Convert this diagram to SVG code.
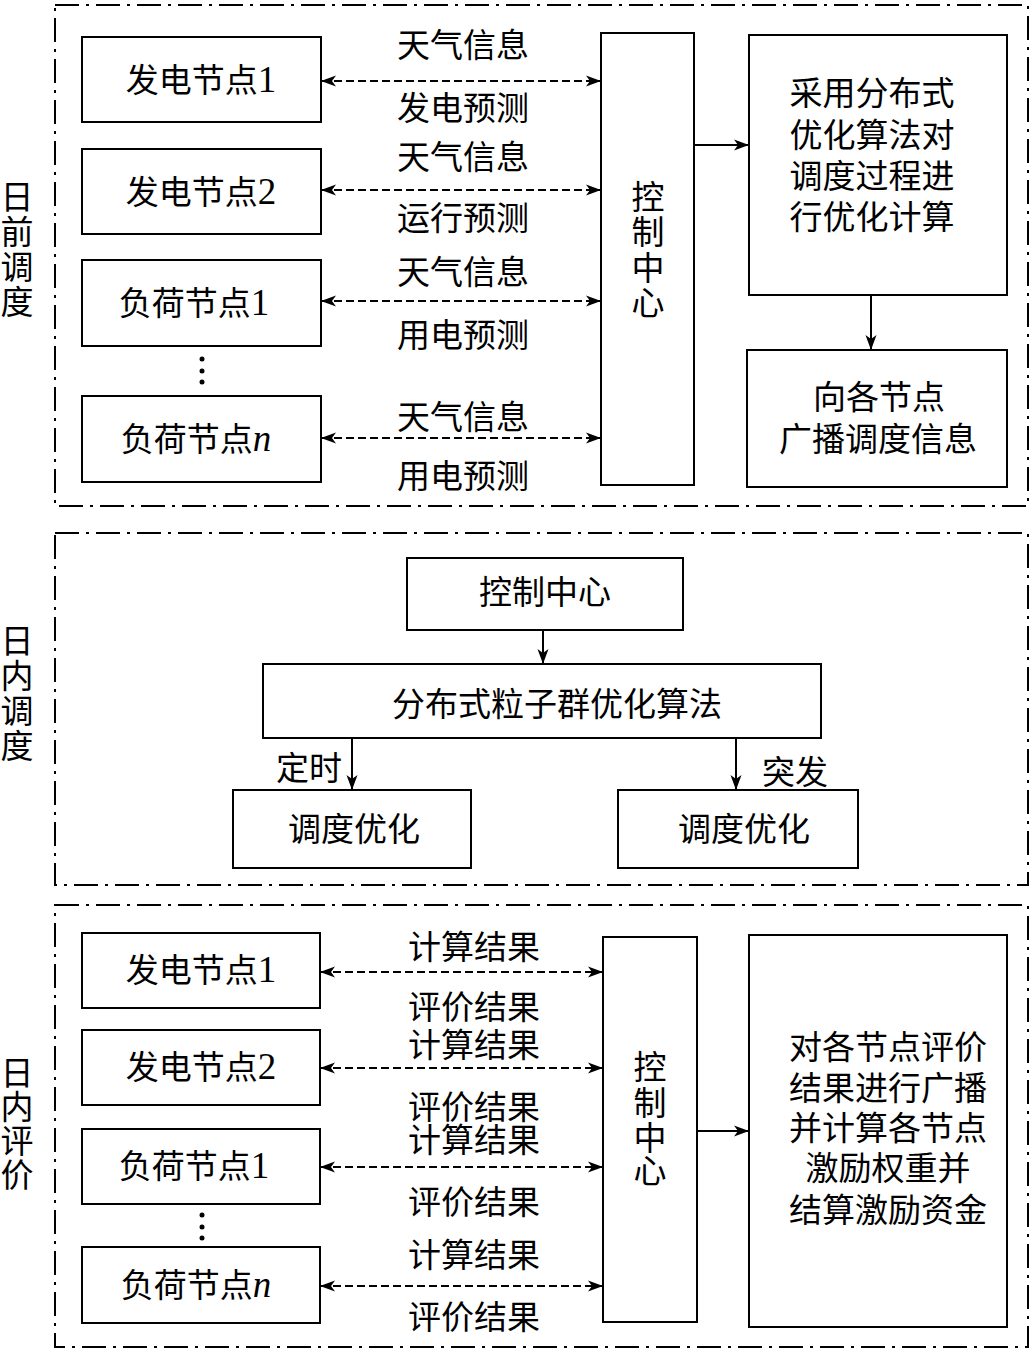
<svg xmlns="http://www.w3.org/2000/svg" width="1032" height="1351" viewBox="0 0 1032 1351">
<style>
text{font-family:"Liberation Serif","Noto Sans CJK SC",serif;font-size:33px;fill:#000;text-anchor:middle}
.num{font-size:37px}
.box{fill:#fff;stroke:#000;stroke-width:2}
.frame{fill:none;stroke:#000;stroke-width:2;stroke-dasharray:24 7 3 7}
.dash{fill:none;stroke:#000;stroke-width:2;stroke-dasharray:8 4;marker-start:url(#ah);marker-end:url(#ah)}
.solid{fill:none;stroke:#000;stroke-width:2;marker-end:url(#ah)}
</style>
<defs>
<marker id="ah" markerUnits="userSpaceOnUse" markerWidth="15" markerHeight="12" refX="14" refY="6" orient="auto-start-reverse" viewBox="0 0 15 12">
<path d="M0,0.5 L15,6 L0,11.5 L4,6 z" fill="#000" stroke="none"/>
</marker>
</defs>
<rect fill="#fff" x="0" y="0" width="1032" height="1351"/>

<g id="section-dayahead">
<rect class="frame" x="55" y="5" width="973" height="501"/>
<text x="17" y="209">日</text><text x="17" y="244">前</text><text x="17" y="279">调</text><text x="17" y="314">度</text>
</g>
<g id="da-gen1"><rect class="box" x="82" y="37" width="239" height="85"/><text x="201" y="92">发电节点<tspan class="num">1</tspan></text></g>
<g id="da-gen2"><rect class="box" x="82" y="149" width="239" height="85"/><text x="201" y="204">发电节点<tspan class="num">2</tspan></text></g>
<g id="da-load1"><rect class="box" x="82" y="260" width="239" height="86"/><text x="194" y="315">负荷节点<tspan class="num">1</tspan></text></g>
<g id="da-dots"><circle cx="202" cy="359" r="2.5"/><circle cx="202" cy="371" r="2.5"/><circle cx="202" cy="382" r="2.5"/></g>
<g id="da-loadn"><rect class="box" x="82" y="396" width="239" height="86"/><text x="196" y="451">负荷节点<tspan class="num" font-style="italic">n</tspan></text></g>
<g id="da-cc"><rect class="box" x="601" y="33" width="93" height="452"/>
<text x="648" y="209">控</text><text x="648" y="244">制</text><text x="648" y="280">中</text><text x="648" y="315">心</text></g>
<g id="da-opt"><rect class="box" x="749" y="35" width="258" height="260"/>
<text x="872" y="105">采用分布式</text><text x="872" y="147">优化算法对</text><text x="872" y="188">调度过程进</text><text x="872" y="229">行优化计算</text></g>
<g id="da-bcast"><rect class="box" x="747" y="350" width="260" height="137"/>
<text x="879" y="409">向各节点</text><text x="878" y="451">广播调度信息</text></g>

<g id="section-intraday">
<rect class="frame" x="55" y="533" width="973" height="352"/>
<text x="17" y="653">日</text><text x="17" y="688">内</text><text x="17" y="723">调</text><text x="17" y="758">度</text>
</g>
<g id="id-cc"><rect class="box" x="407" y="558" width="276" height="72"/><text x="545" y="604">控制中心</text></g>
<g id="id-pso"><rect class="box" x="263" y="664" width="558" height="74"/><text x="557" y="716">分布式粒子群优化算法</text></g>
<g id="id-opt1"><rect class="box" x="233" y="790" width="238" height="78"/><text x="354" y="841">调度优化</text></g>
<g id="id-opt2"><rect class="box" x="618" y="790" width="240" height="78"/><text x="744" y="841">调度优化</text></g>

<g id="section-eval">
<rect class="frame" x="55" y="905" width="973" height="442"/>
<text x="17" y="1085">日</text><text x="17" y="1119">内</text><text x="17" y="1153">评</text><text x="17" y="1187">价</text>
</g>
<g id="ev-gen1"><rect class="box" x="82" y="933" width="238" height="75"/><text x="201" y="982">发电节点<tspan class="num">1</tspan></text></g>
<g id="ev-gen2"><rect class="box" x="82" y="1030" width="238" height="75"/><text x="201" y="1079">发电节点<tspan class="num">2</tspan></text></g>
<g id="ev-load1"><rect class="box" x="82" y="1129" width="238" height="75"/><text x="194" y="1178">负荷节点<tspan class="num">1</tspan></text></g>
<g id="ev-dots"><circle cx="202" cy="1215" r="2.5"/><circle cx="202" cy="1227" r="2.5"/><circle cx="202" cy="1238" r="2.5"/></g>
<g id="ev-loadn"><rect class="box" x="82" y="1247" width="238" height="76"/><text x="196" y="1297">负荷节点<tspan class="num" font-style="italic">n</tspan></text></g>
<g id="ev-cc"><rect class="box" x="603" y="937" width="94" height="385"/>
<text x="650" y="1079">控</text><text x="650" y="1115">制</text><text x="650" y="1150">中</text><text x="650" y="1183">心</text></g>
<g id="ev-settle"><rect class="box" x="749" y="935" width="258" height="392"/>
<text x="888" y="1059">对各节点评价</text><text x="888" y="1100">结果进行广播</text><text x="888" y="1140">并计算各节点</text><text x="888" y="1180">激励权重并</text><text x="888" y="1222">结算激励资金</text></g>

<g id="connectors">
<line class="dash" x1="322" y1="81" x2="600" y2="81"/>
<line class="dash" x1="322" y1="190" x2="600" y2="190"/>
<line class="dash" x1="322" y1="301" x2="600" y2="301"/>
<line class="dash" x1="322" y1="438" x2="600" y2="438"/>
<line class="solid" x1="694" y1="145" x2="748" y2="145"/>
<line class="solid" x1="871" y1="295" x2="871" y2="349"/>
<line class="solid" x1="543" y1="630" x2="543" y2="663"/>
<line class="solid" x1="352" y1="738" x2="352" y2="789"/>
<line class="solid" x1="736" y1="738" x2="736" y2="789"/>
<line class="dash" x1="321" y1="972" x2="602" y2="972"/>
<line class="dash" x1="321" y1="1068" x2="602" y2="1068"/>
<line class="dash" x1="321" y1="1167" x2="602" y2="1167"/>
<line class="dash" x1="321" y1="1286" x2="602" y2="1286"/>
<line class="solid" x1="697" y1="1131" x2="748" y2="1131"/>
</g>
<g id="connector-labels">
<text x="463" y="57">天气信息</text><text x="463" y="120">发电预测</text>
<text x="463" y="169">天气信息</text><text x="463" y="230">运行预测</text>
<text x="463" y="284">天气信息</text><text x="463" y="347">用电预测</text>
<text x="463" y="429">天气信息</text><text x="463" y="488">用电预测</text>
<text x="309" y="780">定时</text><text x="795" y="784">突发</text>
<text x="474" y="959">计算结果</text><text x="474" y="1019">评价结果</text>
<text x="474" y="1057">计算结果</text><text x="474" y="1119">评价结果</text>
<text x="474" y="1152">计算结果</text><text x="474" y="1214">评价结果</text>
<text x="474" y="1267">计算结果</text><text x="474" y="1329">评价结果</text>
</g>
</svg>
